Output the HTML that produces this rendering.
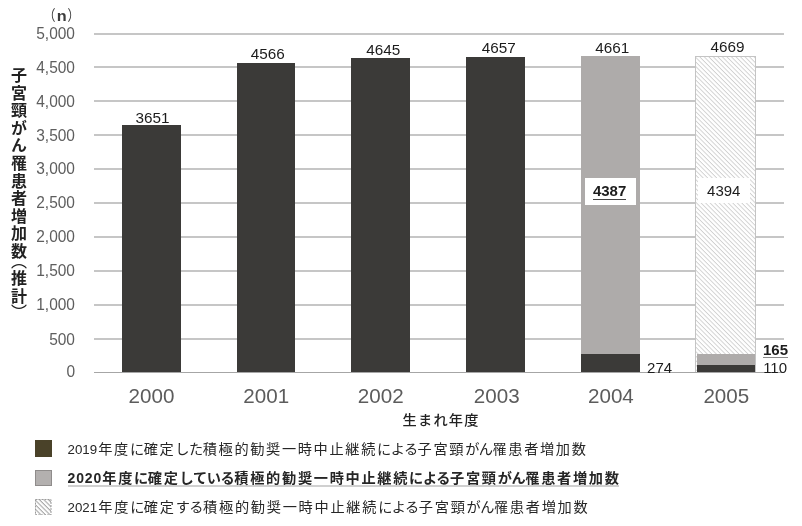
<!DOCTYPE html>
<html lang="ja"><head><meta charset="utf-8"><title>chart</title>
<style>
html,body{margin:0;padding:0;background:#fff;}
body{width:802px;height:526px;position:relative;overflow:hidden;font-family:"Liberation Sans","Noto Sans CJK JP",sans-serif;color:#333;}
#c{position:absolute;left:0;top:0;width:802px;height:526px;filter:blur(0.5px);}
.g{position:absolute;left:93.5px;width:690.5px;height:2px;background:#c6c6c6;}
.yl{position:absolute;left:0;width:75px;text-align:right;font-size:15.5px;line-height:16px;color:#5e5e5e;transform:scaleY(1.08);}
.xl{position:absolute;width:100px;text-align:center;font-size:20.6px;line-height:20px;color:#5c5c5c;top:386.1px;}
.b{position:absolute;background:#3b3a38;}
.gr{position:absolute;background:#aeabaa;}
.vl{position:absolute;width:80px;text-align:center;font-size:15.3px;line-height:16px;color:#1c1c1c;}
.vi{position:absolute;width:80px;text-align:center;font-size:15px;line-height:16px;color:#1c1c1c;}
.lg{position:absolute;left:67.5px;font-size:14.2px;line-height:18px;white-space:nowrap;color:#262626;}
.lg .n{font-size:13.3px;letter-spacing:0;margin-right:1.2px;}
.lg .j{letter-spacing:1.65px;}
.lg .k{letter-spacing:-0.5px;}
.lg.bd .j{letter-spacing:1.7px;margin-right:-1.7px;}
.lg.bd .k{letter-spacing:-0.4px;}
.lg.bd{font-weight:bold;}
.lg.bd .n{font-size:14px;letter-spacing:0.9px;margin-right:0;}
.lg .ul{display:inline-block;border-bottom:2px solid #d0d0d0;line-height:14.6px;}
.sq{position:absolute;left:35px;width:16.5px;height:16.5px;box-sizing:border-box;}
.vt{position:absolute;left:8px;width:18px;height:260px;writing-mode:vertical-rl;font-size:16px;line-height:18px;letter-spacing:1.6px;color:#222;font-weight:700;white-space:nowrap;}
.vt .p1{font-weight:400;margin-top:-7.3px;margin-bottom:-0.6px;}
.vt .p2{font-weight:400;margin-top:-1px;}
</style></head><body><div id="c">

<div class="g" style="top:371.50px;height:1.4px;background:#a6a6a6"></div>
<div class="g" style="top:338.34px"></div>
<div class="g" style="top:304.08px"></div>
<div class="g" style="top:269.62px"></div>
<div class="g" style="top:236.06px"></div>
<div class="g" style="top:201.90px"></div>
<div class="g" style="top:168.24px"></div>
<div class="g" style="top:134.38px"></div>
<div class="g" style="top:100.32px"></div>
<div class="g" style="top:66.46px"></div>
<div class="g" style="top:32.90px"></div>
<div class="yl" style="top:364.40px">0</div>
<div class="yl" style="top:331.54px">500</div>
<div class="yl" style="top:297.28px">1,000</div>
<div class="yl" style="top:262.82px">1,500</div>
<div class="yl" style="top:229.26px">2,000</div>
<div class="yl" style="top:195.10px">2,500</div>
<div class="yl" style="top:161.44px">3,000</div>
<div class="yl" style="top:127.58px">3,500</div>
<div class="yl" style="top:93.52px">4,000</div>
<div class="yl" style="top:59.66px">4,500</div>
<div class="yl" style="top:26.10px">5,000</div>
<div style="position:absolute;left:43.4px;top:8px;font-size:12px;line-height:14px;color:#3c3c3c;white-space:nowrap;letter-spacing:0;transform:scaleY(1.22);transform-origin:50% 0">（<span style="display:inline-block;font-size:12.5px;font-weight:bold;transform:scaleX(1.3);margin:0 2.2px 0 2.2px">n</span>）</div>
<div class="b" style="left:122.2px;top:124.95px;width:58.6px;height:247.25px"></div>
<div class="b" style="left:236.9px;top:62.99px;width:58.6px;height:309.21px"></div>
<div class="b" style="left:351.4px;top:57.64px;width:58.6px;height:314.56px"></div>
<div class="b" style="left:466.2px;top:56.83px;width:58.6px;height:315.37px"></div>
<div class="gr" style="left:581.0px;top:56.06px;width:59.1px;height:297.59px"></div>
<div class="b" style="left:581.0px;top:353.64px;width:59.1px;height:18.56px"></div>
<svg style="position:absolute;left:695.1px;top:55.52px" width="62" height="316.68"><defs><pattern id="ht" width="3.2" height="3.2" patternUnits="userSpaceOnUse" patternTransform="rotate(45)"><rect width="3.2" height="3.2" fill="#fff"/><rect width="3.2" height="0.9" fill="#cfcfcf"/></pattern><pattern id="hl" width="3.2" height="3.2" patternUnits="userSpaceOnUse" patternTransform="rotate(45)"><rect width="3.2" height="3.2" fill="#fff"/><rect width="3.2" height="1.1" fill="#a8a8a8"/></pattern></defs><rect x="0.5" y="0.5" width="60" height="318.18" fill="url(#ht)" stroke="#c4c4c4" stroke-width="1"/></svg>
<div class="gr" style="left:696.8px;top:353.58px;width:57.8px;height:11.17px"></div>
<div class="b" style="left:696.8px;top:364.75px;width:57.8px;height:7.45px"></div>
<div class="vl" style="left:112.4px;top:109.90px">3651</div>
<div class="vl" style="left:227.8px;top:46.10px">4566</div>
<div class="vl" style="left:343.2px;top:41.55px">4645</div>
<div class="vl" style="left:458.8px;top:40.25px">4657</div>
<div class="vl" style="left:572.3px;top:39.65px">4661</div>
<div class="vl" style="left:687.6px;top:39.20px">4669</div>
<div style="position:absolute;left:584.8px;top:178.4px;width:51.2px;height:26.4px;background:#fff"></div>
<div class="vi" style="left:569.6px;top:183px;font-weight:bold"><span style="border-bottom:1px solid #444;display:inline-block;line-height:14.6px">4387</span></div>
<div style="position:absolute;left:698.2px;top:178.4px;width:51.4px;height:25px;background:#fff"></div>
<div class="vi" style="left:683.75px;top:183px">4394</div>
<div style="position:absolute;left:756.8px;top:341px;width:32px;height:30.4px;background:#fff"></div>
<div class="vi" style="left:619.6px;top:360.2px">274</div>
<div class="vi" style="left:735.5px;top:341.7px;font-weight:bold"><span style="border-bottom:1px solid #8a8a8a;display:inline-block;line-height:14.6px">165</span></div>
<div class="vi" style="left:735.1px;top:360.3px">110</div>
<div class="xl" style="left:101.5px">2000</div>
<div class="xl" style="left:216.2px">2001</div>
<div class="xl" style="left:330.7px">2002</div>
<div class="xl" style="left:446.7px">2003</div>
<div class="xl" style="left:560.9px">2004</div>
<div class="xl" style="left:676.3px">2005</div>
<div style="position:absolute;left:402.5px;top:410px;font-size:14.2px;line-height:20px;letter-spacing:1.25px;color:#222;font-weight:500;white-space:nowrap">生まれ年度</div>
<div class="vt" style="top:66.5px">子宮頸がん罹患者増加数<span class="p1">（</span>推計<span class="p2">）</span></div>
<div class="sq" style="top:440.4px;background:#4a4229"></div>
<div class="lg" style="top:439.5px;"><span class="n">2019</span><span class="j">年度<span class="k">に</span>確定<span class="k">した</span>積極的勧奨一時中止継続<span class="k">による</span>子宮頸<span class="k">がん</span>罹患者増加数</span></div>
<div class="sq" style="top:469.7px;background:#b3b0af;border:1px solid #8f8c8b"></div>
<div class="lg bd" style="top:468.8px;"><span class="ul"><span class="n">2020</span><span class="j">年度<span class="k">に</span>確定<span class="k">している</span>積極的勧奨一時中止継続<span class="k">による</span>子宮頸<span class="k">がん</span>罹患者増加数</span></span></div>
<svg class="sq" style="top:498.6px" width="16.5" height="16.5"><rect x="0.5" y="0.5" width="15.5" height="15.5" fill="url(#hl)" stroke="#9c9c9c" stroke-dasharray="2 1"/></svg>
<div class="lg" style="top:498px;word-spacing:0;"><span class="n">2021</span><span class="j" style="letter-spacing:1.73px">年度<span class="k">に</span>確定<span class="k">する</span>積極的勧奨一時中止継続<span class="k">による</span>子宮頸<span class="k">がん</span>罹患者増加数</span></div>
</div></body></html>
